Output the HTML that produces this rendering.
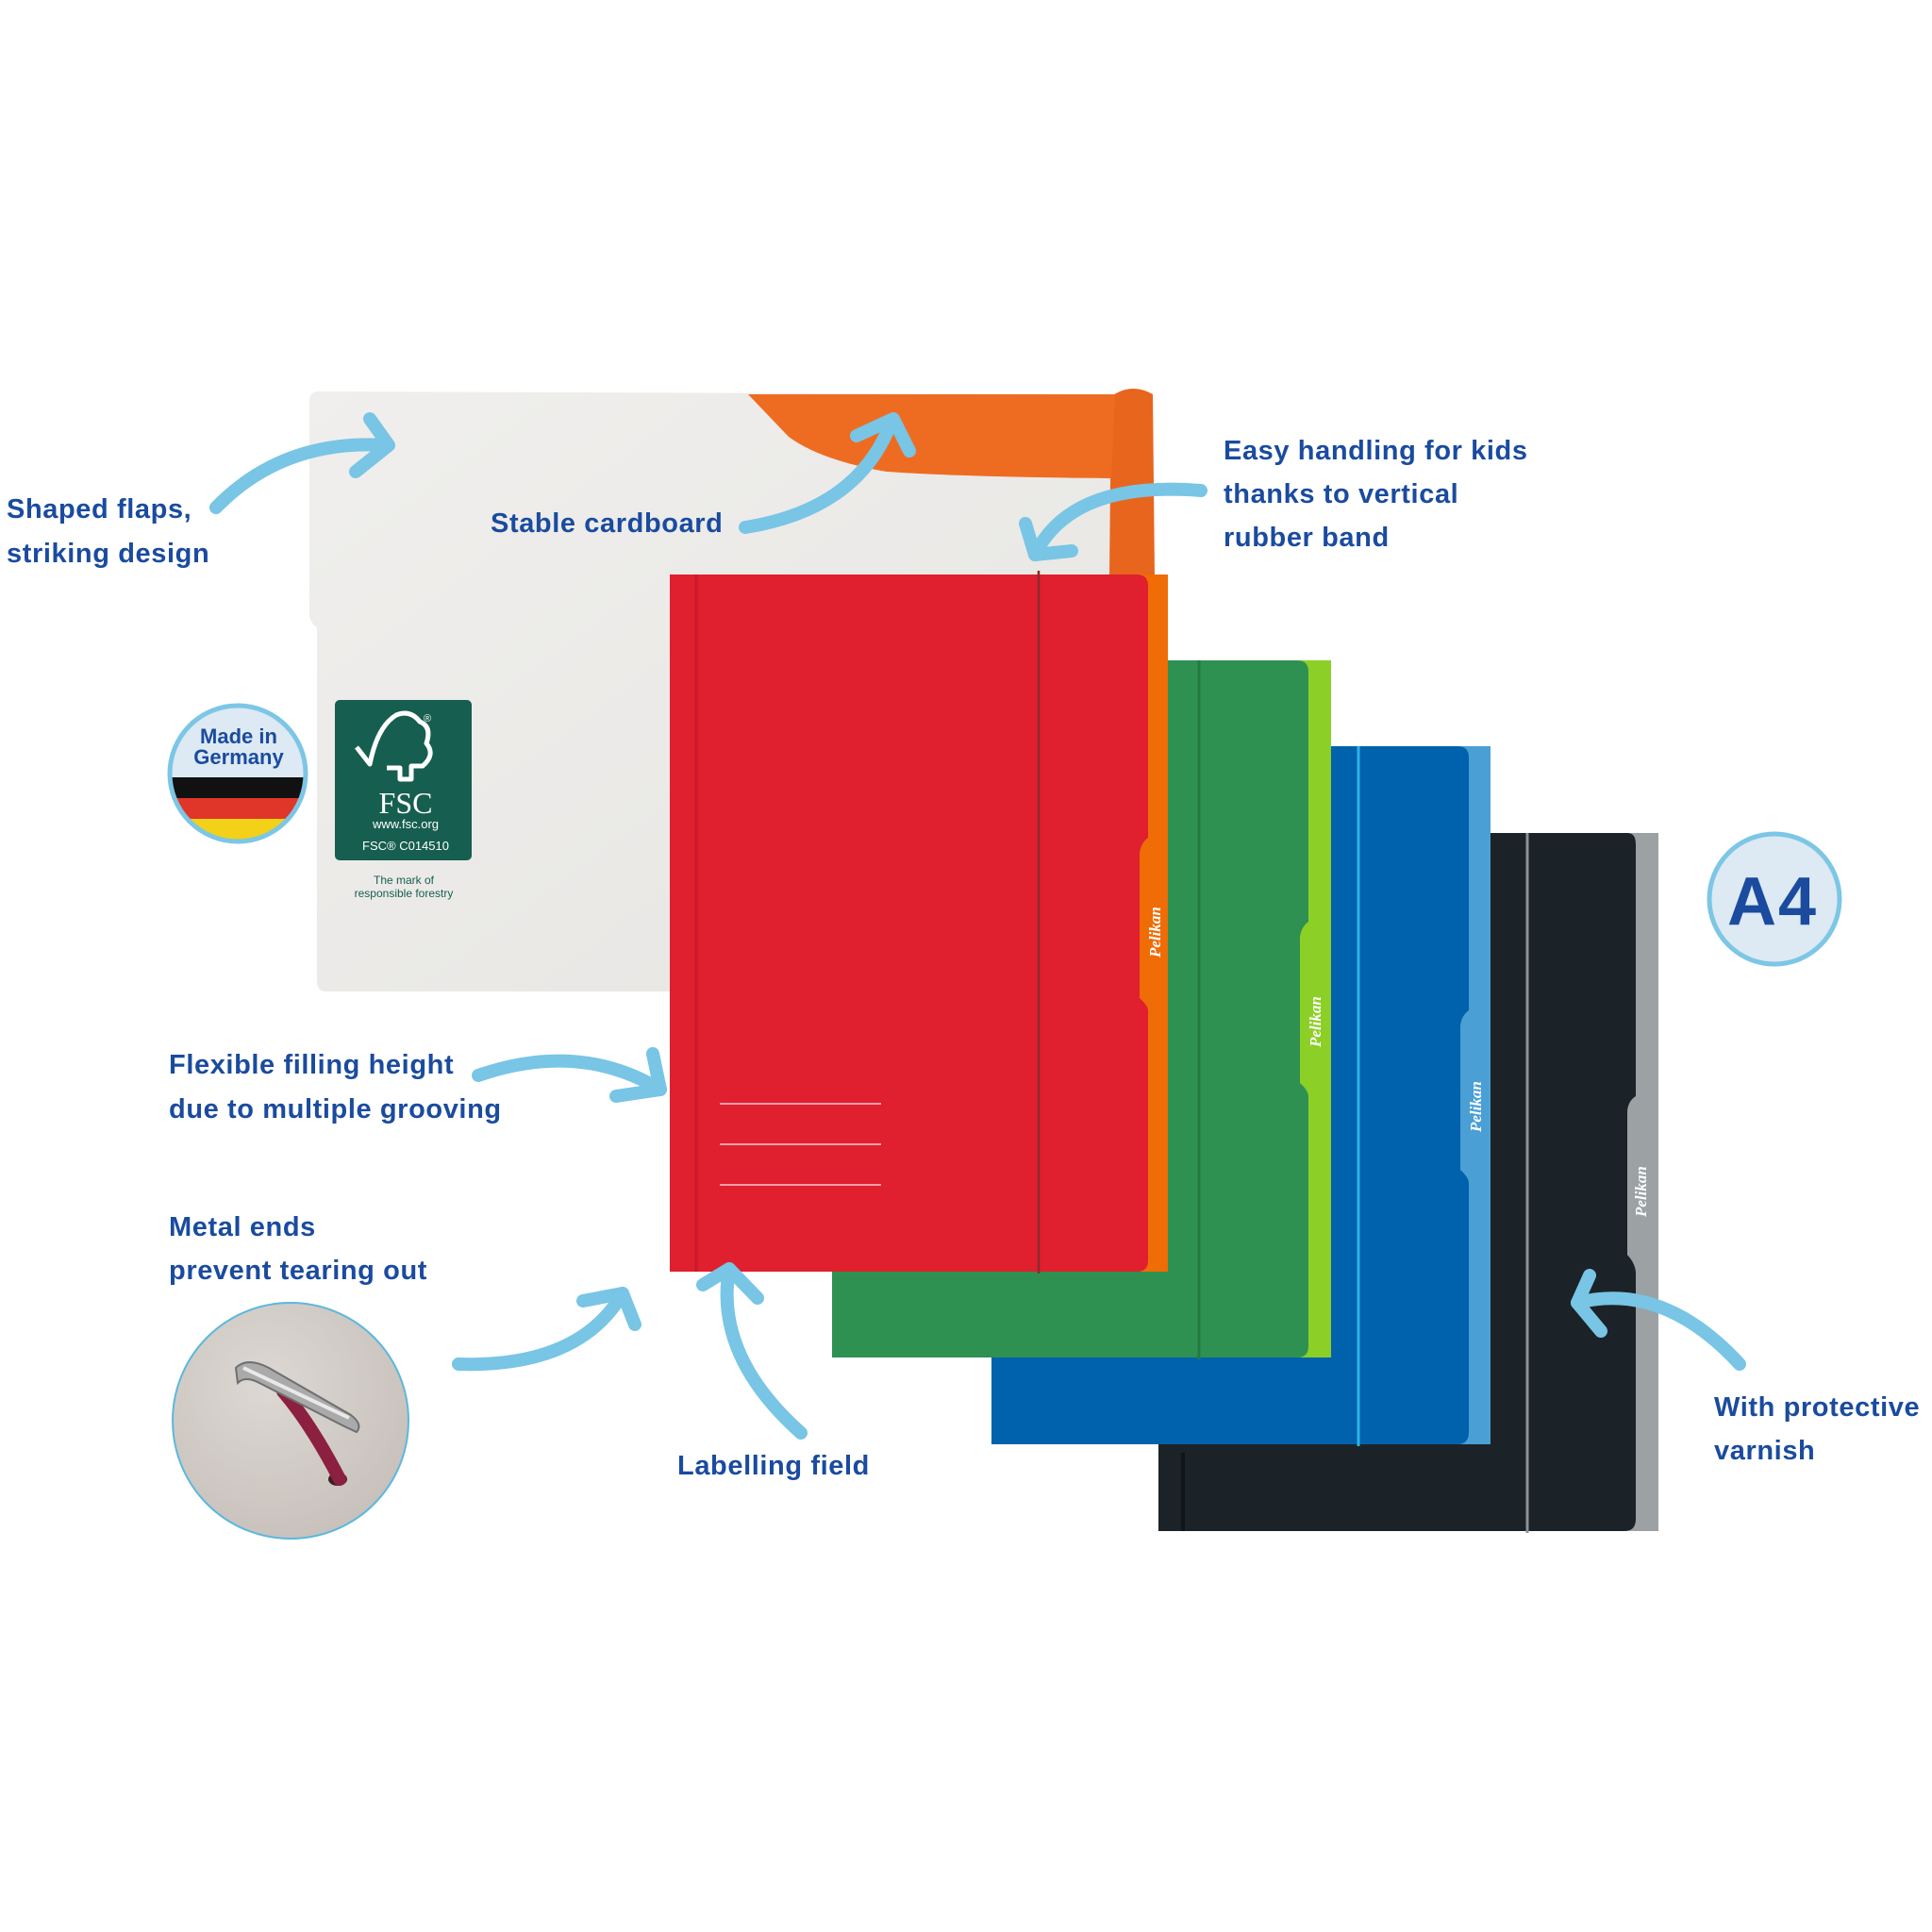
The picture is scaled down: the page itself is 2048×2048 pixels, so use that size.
<!DOCTYPE html>
<html><head><meta charset="utf-8"><style>
html,body{margin:0;padding:0;background:#fff}
svg{display:block}
.t{font-family:"Liberation Sans",sans-serif;font-weight:bold;font-size:29px;fill:#1a4b9f;letter-spacing:0.6px}
.pk{font-family:"Liberation Serif",serif;font-style:italic;font-weight:bold;font-size:17px;fill:#fff}
</style></head><body>
<svg width="2048" height="2048" viewBox="0 0 2048 2048" xmlns="http://www.w3.org/2000/svg">
<defs>
<linearGradient id="wg" x1="0" y1="0" x2="1" y2="1"><stop offset="0" stop-color="#f0efed"/><stop offset="1" stop-color="#e6e5e2"/></linearGradient>
<radialGradient id="mg" cx="0.4" cy="0.35" r="0.7"><stop offset="0" stop-color="#ddd8d3"/><stop offset="1" stop-color="#c7c0bb"/></radialGradient>
<clipPath id="gc"><circle cx="252" cy="820" r="70"/></clipPath>
<clipPath id="mc"><circle cx="308" cy="1506" r="124"/></clipPath>
</defs>
<!-- white folder -->
<path d="M338,415 L1185,418 L1185,1051 L346,1051 Q336,1051 336,1040 L336,665 Q328,660 328,650 L328,425 Q328,415 338,415Z" fill="url(#wg)"/>
<!-- orange strip & flap -->
<path d="M1178,420 Q1200,405 1222,418 L1224,612 L1176,612Z" fill="#e8651e"/>
<path d="M793,418 L1182,418 L1178,507 Q1030,506 940,500 Q870,488 836,463 Z" fill="#ee6c22"/>
<!-- black -->
<rect x="1228" y="883" width="530" height="740" fill="#9ca1a4"/>
<path d="M1228,883 L1725,883 Q1734,883 1734,895 L1734,1162 Q1725,1168 1725,1180 L1725,1330 Q1734,1340 1734,1350 L1734,1610 Q1734,1623 1722,1623 L1228,1623Z" fill="#1b2328"/>
<path d="M1734,1162 Q1725,1168 1725,1180 L1725,1330 Q1734,1340 1734,1345 L1758,1345 L1758,1162Z" fill="#9ca1a4"/>
<line x1="1254" y1="1540" x2="1254" y2="1623" stroke="#0f1518" stroke-width="4"/>
<line x1="1619" y1="883" x2="1619" y2="1625" stroke="#8d9295" stroke-width="3"/>
<text class="pk" transform="translate(1745,1290) rotate(-90)">Pelikan</text>
<!-- blue -->
<rect x="1051" y="791" width="529" height="740" fill="#4a9fd5"/>
<path d="M1051,791 L1545,791 Q1557,791 1557,803 L1557,1071 Q1548,1078 1548,1090 L1548,1240 Q1557,1248 1557,1254 L1557,1518 Q1557,1531 1545,1531 L1051,1531Z" fill="#0062ac"/>
<path d="M1557,1071 Q1548,1078 1548,1090 L1548,1240 Q1557,1248 1557,1254 L1580,1254 L1580,1071Z" fill="#4a9fd5"/>
<line x1="1440" y1="791" x2="1440" y2="1533" stroke="#2fb2e6" stroke-width="3"/>
<text class="pk" transform="translate(1570,1200) rotate(-90)">Pelikan</text>
<!-- green -->
<rect x="882" y="700" width="529" height="739" fill="#8ccf26"/>
<path d="M882,700 L1375,700 Q1387,700 1387,712 L1387,977 Q1378,984 1378,996 L1378,1148 Q1387,1156 1387,1162 L1387,1427 Q1387,1439 1375,1439 L882,1439Z" fill="#2e9152"/>
<path d="M1387,977 Q1378,984 1378,996 L1378,1148 Q1387,1156 1387,1162 L1411,1162 L1411,977Z" fill="#8ccf26"/>
<line x1="1271" y1="700" x2="1271" y2="1441" stroke="#217a41" stroke-width="3"/>
<text class="pk" transform="translate(1400,1110) rotate(-90)">Pelikan</text>
<!-- red -->
<rect x="710" y="609" width="528" height="739" fill="#ef6c06"/>
<path d="M710,609 L1205,609 Q1217,609 1217,621 L1217,888 Q1208,895 1208,907 L1208,1058 Q1217,1066 1217,1071 L1217,1336 Q1217,1348 1205,1348 L710,1348Z" fill="#e01f2f"/>
<path d="M1217,888 Q1208,895 1208,907 L1208,1058 Q1217,1066 1217,1071 L1238,1071 L1238,888Z" fill="#ef6c06"/>
<line x1="738" y1="609" x2="738" y2="1348" stroke="#c91a2a" stroke-width="3"/>
<line x1="1101" y1="605" x2="1101" y2="1350" stroke="#8a2a2a" stroke-width="2.5"/>
<g stroke="#f3a0a6" stroke-width="2"><line x1="763" y1="1170" x2="934" y2="1170"/><line x1="763" y1="1213" x2="934" y2="1213"/><line x1="763" y1="1256" x2="934" y2="1256"/></g>
<text class="pk" transform="translate(1230,1015) rotate(-90)">Pelikan</text>
<!-- FSC -->
<rect x="355" y="742" width="145" height="170" rx="5" fill="#165e50"/>
<path d="M378,792 L392,810 Q400,770 420,758 Q435,752 445,765 Q458,770 452,788 Q462,800 448,812 L436,812 L436,826 L424,826 L424,814 L410,814" fill="none" stroke="#fff" stroke-width="5" stroke-linejoin="round"/>
<text x="449" y="765" font-family="Liberation Sans" font-size="11" fill="#fff">®</text>
<text x="430" y="862" text-anchor="middle" font-family="Liberation Serif,serif" font-size="32" fill="#fff">FSC</text>
<text x="430" y="878" text-anchor="middle" font-family="Liberation Sans,sans-serif" font-size="13" fill="#fff">www.fsc.org</text>
<text x="430" y="901" text-anchor="middle" font-family="Liberation Sans,sans-serif" font-size="13" fill="#fff">FSC® C014510</text>
<text x="428" y="937" text-anchor="middle" font-family="Liberation Sans,sans-serif" font-size="12" fill="#165e50">The mark of</text>
<text x="428" y="951" text-anchor="middle" font-family="Liberation Sans,sans-serif" font-size="12" fill="#165e50">responsible forestry</text>
<!-- Made in Germany -->
<circle cx="252" cy="820" r="72" fill="#dde9f3"/>
<g clip-path="url(#gc)"><rect x="170" y="824" width="170" height="22" fill="#111"/><rect x="170" y="846" width="170" height="22" fill="#e0362a"/><rect x="170" y="868" width="170" height="24" fill="#f2d118"/></g>
<circle cx="252" cy="820" r="72" fill="none" stroke="#7cc6e6" stroke-width="5"/>
<text x="253" y="788" text-anchor="middle" class="t" style="font-size:22px;letter-spacing:0">Made in</text>
<text x="253" y="810" text-anchor="middle" class="t" style="font-size:22px;letter-spacing:0">Germany</text>
<!-- A4 -->
<circle cx="1881" cy="953" r="69" fill="#dde9f3" stroke="#7cc6e6" stroke-width="5"/>
<text x="1879" y="980" text-anchor="middle" class="t" style="font-size:72px;letter-spacing:2px">A4</text>
<!-- metal circle -->
<circle cx="308" cy="1506" r="125" fill="url(#mg)" stroke="#5bb8de" stroke-width="2"/>
<g clip-path="url(#mc)">
<ellipse cx="358" cy="1568" rx="10" ry="7" fill="#3a1f25"/>
<path d="M300,1475 Q330,1510 360,1568" stroke="#8c2040" stroke-width="14" fill="none" stroke-linecap="round"/>
<path d="M250,1450 Q262,1438 285,1450 L372,1500 Q385,1510 378,1518 L365,1512 L275,1466 Q260,1458 252,1466Z" fill="#a9aaa9" stroke="#6f6f70" stroke-width="2"/>
<path d="M258,1450 L370,1503" stroke="#e9e9e9" stroke-width="4"/>
</g>
<!-- arrows -->
<g fill="none" stroke="#78c5e5" stroke-width="14" stroke-linecap="round" stroke-linejoin="round">
<path d="M229,538 Q300,465 410,472"/><path d="M392,444 L412,472 L377,500"/>
<path d="M790,559 Q910,540 945,447"/><path d="M908,462 L947,444 L964,478"/>
<path d="M1273,520 Q1136,509 1097,588"/><path d="M1087,555 L1097,588 L1136,584"/>
<path d="M507,1140 Q614,1103 700,1155"/><path d="M692,1117 L700,1155 L653,1162"/>
<path d="M486,1446 Q614,1450 660,1371"/><path d="M618,1379 L660,1371 L673,1404"/>
<path d="M849,1519 Q757,1437 773,1345"/><path d="M745,1362 L773,1345 L803,1376"/>
<path d="M1844,1446 Q1763,1358 1672,1381"/><path d="M1685,1352 L1672,1381 L1697,1411"/>
</g>
<!-- labels -->
<text class="t" x="7" y="549">Shaped flaps,</text>
<text class="t" x="7" y="596">striking design</text>
<text class="t" x="520" y="564">Stable cardboard</text>
<text class="t" x="1297" y="487">Easy handling for kids</text>
<text class="t" x="1297" y="533">thanks to vertical</text>
<text class="t" x="1297" y="579">rubber band</text>
<text class="t" x="179" y="1138">Flexible filling height</text>
<text class="t" x="179" y="1185">due to multiple grooving</text>
<text class="t" x="179" y="1310">Metal ends</text>
<text class="t" x="179" y="1356">prevent tearing out</text>
<text class="t" x="718" y="1563">Labelling field</text>
<text class="t" x="1817" y="1501">With protective</text>
<text class="t" x="1817" y="1547">varnish</text>
</svg>
</body></html>
